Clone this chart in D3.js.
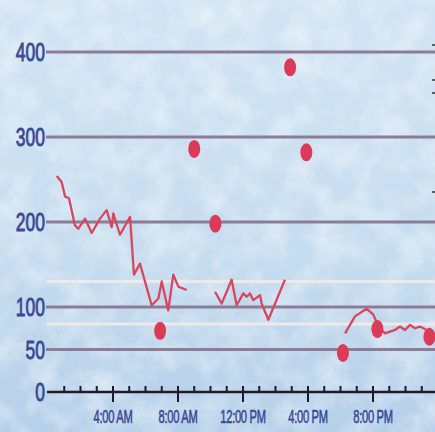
<!DOCTYPE html>
<html>
<head>
<meta charset="utf-8">
<script src="https://cdn.jsdelivr.net/npm/d3@7"></script>
<style>
  html, body { margin: 0; padding: 0; background: #cfe2f2; }
  svg { display: block; }
</style>
</head>
<body>
<div id="chart"></div>
<script>
const yTicks = [0, 50, 100, 200, 300, 400];
const gridValues = [50, 100, 200, 300, 400];
const targetValues = [80, 130];
const hourTicks = d3.range(1, 24);
const labelHours = [4, 8, 12, 16, 20];
const labelTexts = ["4:00 AM", "8:00 AM", "12:00 PM", "4:00 PM", "8:00 PM"];

const cgmHours1 = [0.54, 0.84, 1.05, 1.29, 1.66, 1.86, 2.28, 2.69, 3.2, 3.61, 3.92, 4.02, 4.43, 5.05, 5.29, 5.66, 6.38, 6.79, 7.0, 7.4, 7.71, 8.02, 8.54];
const cgmValues1 = [254, 247, 230, 228, 196, 192, 204, 187, 204, 214, 194, 210, 185, 206, 138, 151, 102, 110, 130, 96, 138, 124, 120];
const cgmHours2 = [10.28, 10.69, 11.3, 11.61, 12.02, 12.23, 12.43, 12.63, 13.05, 13.15, 13.56, 14.58];
const cgmValues2 = [118, 104, 132, 102, 116, 112, 116, 108, 114, 104, 85, 132];
const cgmHours3 = [18.28, 18.89, 19.61, 20.02, 20.33, 20.74, 21.35, 21.66, 21.97, 22.28, 22.58, 22.89, 23.3, 23.51, 23.8];
const cgmValues3 = [69, 89, 98, 91, 77, 69, 73, 77, 73, 79, 75, 77, 73, 67, 70];

const meterHours = [6.9, 9.0, 10.3, 14.9, 15.9, 18.15, 20.27, 23.47];
const meterValues = [72, 286, 198, 382, 282, 46, 74, 65];

const width = 435;
const height = 432;
const labelFont = "'Liberation Sans', Arial, sans-serif";
const labelColor = "#3a4a94";

const svg = d3.select("#chart").append("svg")
  .attr("width", width)
  .attr("height", height);

const defs = svg.append("defs");

const bgGrad = defs.append("linearGradient")
  .attr("id", "bg-grad")
  .attr("x1", "0%").attr("x2", "0%")
  .attr("y1", "0%").attr("y2", "100%");
bgGrad.append("stop").attr("offset", "0%").attr("stop-color", "#d2e4f3");
bgGrad.append("stop").attr("offset", "60%").attr("stop-color", "#c6dcef");
bgGrad.append("stop").attr("offset", "100%").attr("stop-color", "#b6d0e9");

const paper = defs.append("filter")
  .attr("id", "paper")
  .attr("x", 0).attr("y", 0).attr("width", 1).attr("height", 1);
paper.append("feTurbulence")
  .attr("type", "fractalNoise")
  .attr("baseFrequency", "0.035")
  .attr("numOctaves", 4)
  .attr("seed", 7);
paper.append("feColorMatrix")
  .attr("type", "matrix")
  .attr("values", "0 0 0 0 1  0 0 0 0 1  0 0 0 0 1  1.6 0 0 0 -0.6");

svg.append("rect")
  .attr("width", width)
  .attr("height", height)
  .attr("fill", "url(#bg-grad)");

svg.append("rect")
  .attr("width", width)
  .attr("height", height)
  .attr("fill", "#fff")
  .attr("filter", "url(#paper)")
  .attr("opacity", 0.55);

const x = d3.scaleLinear()
  .domain([0, 24])
  .range([48, 438]);

const y = d3.scaleLinear()
  .domain([0, 400])
  .range([392, 52]);

// target range lines
svg.selectAll(".target")
  .data(targetValues)
  .enter().append("line")
  .attr("class", "target")
  .attr("x1", 47)
  .attr("x2", width)
  .attr("y1", d => y(d))
  .attr("y2", d => y(d))
  .attr("stroke", "#f5ece8")
  .attr("stroke-width", 3)
  .attr("opacity", 0.85);

svg.selectAll(".grid")
  .data(gridValues)
  .enter().append("line")
  .attr("class", "grid")
  .attr("x1", 46)
  .attr("x2", width)
  .attr("y1", d => y(d))
  .attr("y2", d => y(d))
  .attr("stroke", "#8b7c97")
  .attr("stroke-width", 3.2);

// y labels, narrow type
svg.selectAll(".ylabel")
  .data(yTicks)
  .enter().append("text")
  .attr("class", "ylabel")
  .attr("transform", d => `translate(45,${y(d)}) scale(0.7,1)`)
  .attr("dy", "0.36em")
  .attr("text-anchor", "end")
  .style("font-family", labelFont)
  .style("font-size", "25px")
  .style("fill", labelColor)
  .style("stroke", labelColor)
  .style("stroke-width", 0.9)
  .text(d => d);

// x axis
const xAxis = svg.append("g")
  .attr("transform", `translate(0,${y(0)})`);

xAxis.append("line")
  .attr("x1", 47)
  .attr("x2", width)
  .attr("stroke", "#1c1c28")
  .attr("stroke-width", 2.6);

xAxis.selectAll(".minor")
  .data(hourTicks)
  .enter().append("line")
  .attr("class", "minor")
  .attr("x1", d => x(d))
  .attr("x2", d => x(d))
  .attr("y1", -6)
  .attr("y2", d => d % 4 === 0 ? 10 : 0)
  .attr("stroke", "#1c1c28")
  .attr("stroke-width", 2);

xAxis.selectAll(".xlabel")
  .data(labelHours)
  .enter().append("text")
  .attr("class", "xlabel")
  .attr("transform", d => `translate(${x(d)},31) scale(0.62,1)`)
  .attr("text-anchor", "middle")
  .style("font-family", labelFont)
  .style("font-size", "18px")
  .style("letter-spacing", "-0.5px")
  .style("fill", labelColor)
  .style("stroke", labelColor)
  .style("stroke-width", 0.6)
  .text((d, i) => labelTexts[i]);

// CGM trace
const line = d3.line()
  .x(d => x(d[0]))
  .y(d => y(d[1]));

const segments = [
  d3.zip(cgmHours1, cgmValues1),
  d3.zip(cgmHours2, cgmValues2),
  d3.zip(cgmHours3, cgmValues3)
];

svg.selectAll(".cgm")
  .data(segments)
  .enter().append("path")
  .attr("class", "cgm")
  .attr("d", line)
  .attr("fill", "none")
  .attr("stroke", "#d9465f")
  .attr("stroke-width", 2.3)
  .attr("stroke-linejoin", "round");

// meter readings
svg.selectAll(".meter")
  .data(d3.zip(meterHours, meterValues))
  .enter().append("ellipse")
  .attr("class", "meter")
  .attr("cx", d => x(d[0]))
  .attr("cy", d => y(d[1]))
  .attr("rx", 6)
  .attr("ry", 9)
  .attr("fill", "#db3b57");

// slivers of cropped marks at the right edge
const edgeMarkY = [45, 80, 93, 192];
svg.selectAll(".edge")
  .data(edgeMarkY)
  .enter().append("line")
  .attr("class", "edge")
  .attr("x1", 432)
  .attr("x2", width)
  .attr("y1", d => d)
  .attr("y2", d => d)
  .attr("stroke", "#333")
  .attr("stroke-width", 1.5);
</script>
</body>
</html>
